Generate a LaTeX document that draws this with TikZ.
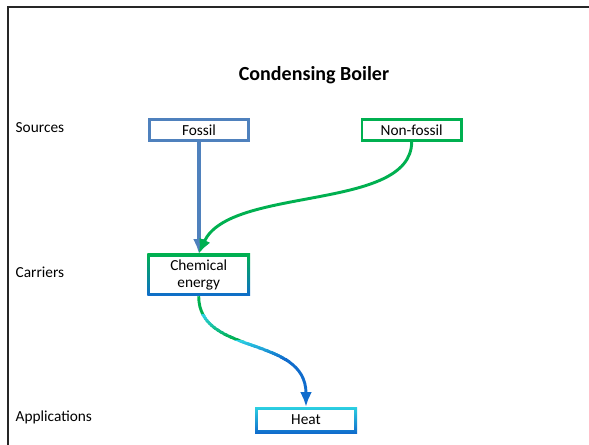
\documentclass[tikz,border=0pt]{standalone}
\usepackage{fontspec}
\setmainfont{Carlito}
\usepackage{xcolor}
\usetikzlibrary{arrows.meta,positioning}

\definecolor{fosblue}{RGB}{79,129,189}
\definecolor{nfgreen}{RGB}{0,176,80}
\definecolor{heatcyan}{RGB}{44,208,226}
\definecolor{appblue}{RGB}{16,108,204}

\tikzset{
  srcbox/.style={draw=#1, line width=2pt, fill=white, minimum width=74.5pt, minimum height=15.5pt, inner sep=0pt},
  gradbox/.style 2 args={shade, top color=#1, bottom color=#2, inner sep=0pt},
  innerbox/.style={fill=white, inner sep=0pt, align=center},
  rowlabel/.style={anchor=west, font=\fontsize{11.5}{13}\selectfont},
  flow/.style={line width=2.2pt, -{Latex[length=11pt,width=9pt]}}
}

\begin{document}
\begin{tikzpicture}[x=0.75pt,y=0.75pt,yscale=-1,xscale=1,font=\fontsize{11.5}{13.5}\selectfont]
\useasboundingbox (0,0) rectangle (589,445);

%Frame: top and left edge
\draw [line width=1.5pt, black!85] (589,7.5) -- (8,7.5) -- (8,445) ;

% Text Node
\node (title) at (314,75) {\fontsize{15}{18}\selectfont\bfseries Condensing Boiler};
% Text Node
\node [rowlabel] (sources) at (11,128) {Sources};
% Text Node
\node [rowlabel] (carriers) at (11,272) {Carriers};
% Text Node
\node [rowlabel] (applications) at (11,417) {Applications};

%Shape: Rectangle
\node [srcbox=fosblue] (fossil) at (199,130) {Fossil};
%Shape: Rectangle
\node [srcbox=nfgreen] (nonfossil) at (411.7,130) {Non-fossil};
%Shape: Rectangle
\node [gradbox={nfgreen}{appblue}, minimum width=77pt, minimum height=31.5pt] (chem) at (198.7,275) {};
\node [innerbox, minimum width=72.5pt, minimum height=27pt] (chemtext) at (chem) {Chemical\\[-1pt]energy};
%Shape: Rectangle
\node [gradbox={heatcyan}{appblue}, minimum width=76.5pt, minimum height=19.5pt] (heat) at (306,420) {};
\node [innerbox, minimum width=72pt, minimum height=15pt] (heattext) at (heat) {Heat};

%Straight Lines
\draw [flow, fosblue, line width=2.5pt] (fossil.south) -- (fossil.south |- chem.north) ;
%Curve Lines
\draw [flow, nfgreen] (nonfossil.south) .. controls +(0,70) and +(31,-68) .. (chem.north) ;
%Curve Lines (colour runs green - cyan - blue)
\begin{scope}
  \clip (140,290) rectangle (370,316);
  \draw [flow, nfgreen] (chem.south) .. controls +(0,60) and +(0,-72) .. (heat.north) ;
\end{scope}
\foreach \i [evaluate=\i as \ya using {315+2.3*\i}, evaluate=\i as \p using {int(100-10*\i)}] in {0,...,10}
{
  \begin{scope}
    \clip (140,\ya) rectangle (370,\ya+2.7);
    \draw [flow, heatcyan!\p!nfgreen] (chem.south) .. controls +(0,60) and +(0,-72) .. (heat.north) ;
  \end{scope}
}
\foreach \i [evaluate=\i as \ya using {340.3+1.8*\i}, evaluate=\i as \p using {int(100-10*\i)}] in {0,...,10}
{
  \begin{scope}
    \clip (140,\ya) rectangle (370,\ya+2.2);
    \draw [flow, heatcyan!\p!appblue] (chem.south) .. controls +(0,60) and +(0,-72) .. (heat.north) ;
  \end{scope}
}
\begin{scope}
  \clip (140,358.3) rectangle (370,440);
  \draw [flow, appblue] (chem.south) .. controls +(0,60) and +(0,-72) .. (heat.north) ;
\end{scope}

\end{tikzpicture}
\end{document}
